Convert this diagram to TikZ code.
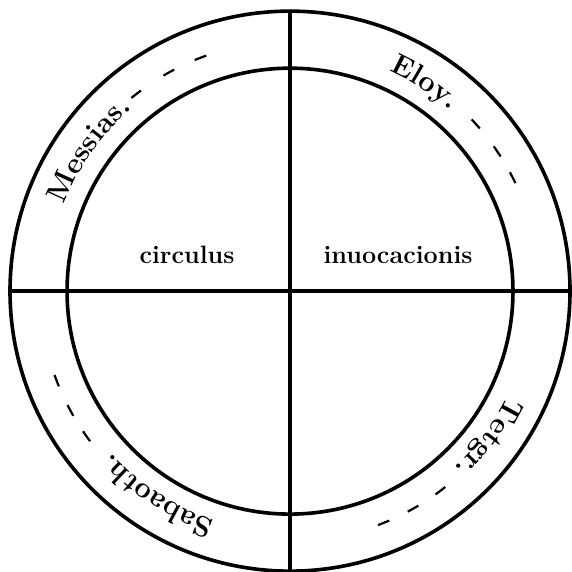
\documentclass[tikz,border=0pt]{standalone}
\usetikzlibrary{decorations.text}

\newcommand{\ringfont}{\bfseries\fontsize{14.5}{14.5}\selectfont}
\newcommand{\midfont}{\bfseries\fontsize{12.5}{12.5}\selectfont}

\begin{document}
\begin{tikzpicture}[line width=1.8pt,
    ringname/.style={decorate, decoration={text along path, text align=center,
      text={|\ringfont|#1}}},
    tick/.style={line width=1.1pt}]
  % Circle of invocation: two rings, four names

  \useasboundingbox (-5.07,-4.91) rectangle (4.93,5.09);

  % Rings
  \draw (0,0) circle (4.895);
  \draw (0,0) circle (3.898);

  % Cross
  \draw (0,4.895) -- (0,-4.895);
  \draw (-4.895,0) -- (4.895,0);

  % Names, read clockwise round the ring
  \path[ringname={Messias.}] (160:4.22) arc[start angle=160, end angle=130, radius=4.22];
  \path[ringname={Eloy.}] (69:4.22) arc[start angle=69, end angle=45, radius=4.22];
  \path[ringname={Tetgr.}] (-22:4.22) arc[start angle=-22, end angle=-51, radius=4.22];
  \path[ringname={Sabaoth.}] (-105:4.22) arc[start angle=-105, end angle=-141, radius=4.22];

  % Dashes after each name
  \foreach \a in {128,119,111, 42,34,27, -53,-60.5,-68, -144.5,-151.5,-159}
    \draw[tick] (\a+1.4:4.37) arc[start angle=\a+1.4, end angle=\a-1.4, radius=4.37];

  % Title
  \node[anchor=base, font=\midfont] (circ) at (-1.80,0.49) {circulus};
  \node[anchor=base, font=\midfont] (invoc) at (1.89,0.49) {inuocacionis};
\end{tikzpicture}
\end{document}
